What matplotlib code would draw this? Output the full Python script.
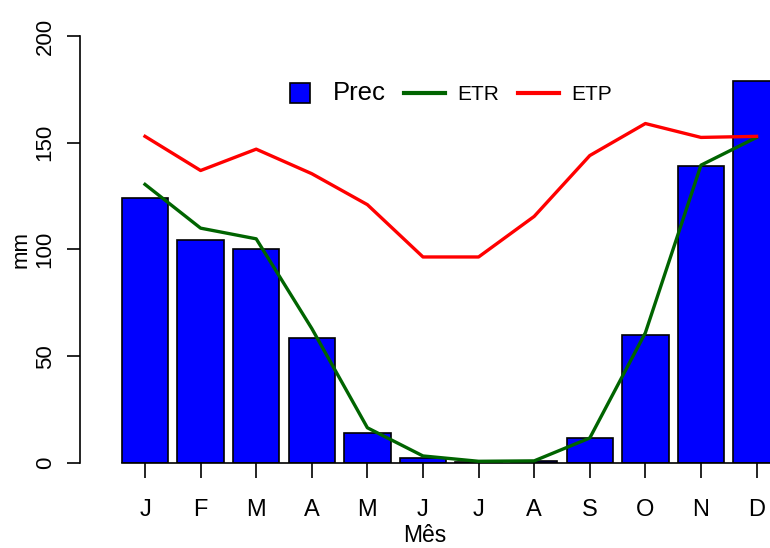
import matplotlib
matplotlib.use("Agg")
import matplotlib.pyplot as plt
import numpy as np
from matplotlib.lines import Line2D

plt.rcParams['font.family'] = ['Liberation Sans', 'DejaVu Sans']

meses = ['J', 'F', 'M', 'A', 'M', 'J', 'J', 'A', 'S', 'O', 'N', 'D']
prec = [124, 104.5, 100, 58.5, 14, 2.3, 0.6, 1.0, 11.7, 60, 139, 179]
etr = [130.5, 110, 105, 63, 16.5, 3.3, 0.8, 1.0, 11.7, 61, 139.5, 152.5]
etp = [153, 137, 147, 135.5, 121, 96.5, 96.5, 115.5, 144, 159, 152.5, 153]

# barplot style positions (width 1, space 0.2)
x = 0.7 + 1.2 * np.arange(len(meses))

fig = plt.figure(figsize=(7.7, 5.48), dpi=100)
ax = fig.add_axes([80 / 770, 85 / 548, 690 / 770, 427 / 548])

ax.bar(x, prec, width=1.0, color='#0000ff', edgecolor='black', linewidth=1.2, zorder=2)
ax.plot(x, etr, color='#006400', linewidth=2.4, zorder=3)
ax.plot(x, etp, color='#ff0000', linewidth=2.4, zorder=3)

ax.set_xlim(-0.703, 14.19)
ax.set_ylim(0, 200)

for s in ['top', 'right']:
    ax.spines[s].set_visible(False)
ax.spines['left'].set_bounds(0, 200)
ax.spines['bottom'].set_bounds(x[0] - 0.5, 14.19)
ax.spines['left'].set_linewidth(1.2)
ax.spines['bottom'].set_linewidth(1.2)

ax.set_xticks(x)
ax.set_xticklabels(meses)
ax.tick_params(axis='x', length=11, width=1.2, pad=15, labelsize=17)
ax.set_yticks([0, 50, 100, 150, 200])
ax.set_yticklabels(['0', '50', '100', '150', '200'], rotation=90, va='center')
ax.tick_params(axis='y', length=9.5, width=1.2, pad=8, labelsize=16)

ax.set_xlabel('Mês', fontsize=16.5, labelpad=2)
ax.set_ylabel('mm', fontsize=16, labelpad=2)

handles = [Line2D([], [], linestyle='none', marker='s', markersize=14,
                  markerfacecolor='#0000ff', markeredgecolor='black', markeredgewidth=1.2),
           Line2D([], [], color='#006400', linewidth=3),
           Line2D([], [], color='#ff0000', linewidth=3)]
leg = ax.legend(handles, ['Prec', 'ETR', 'ETP'], ncol=3, frameon=False,
                loc='center', bbox_to_anchor=(0.53, 0.866),
                handlelength=1.95, handletextpad=0.6, columnspacing=0.9,
                fontsize=15)
leg.get_texts()[0].set_fontsize(18.5)

fig.savefig('out.png', dpi=100)
